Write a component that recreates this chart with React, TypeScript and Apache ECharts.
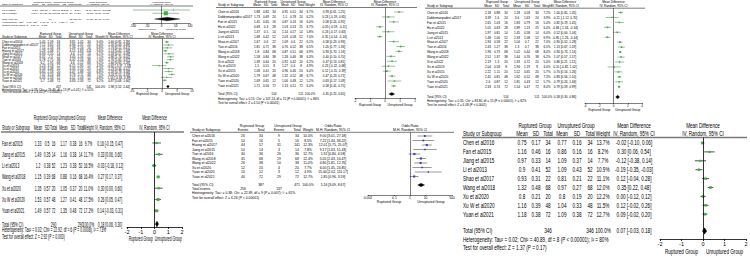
import React, { useEffect, useRef } from "react";
import * as echarts from "echarts";

// ================= DATA =================
// Panel A (top-left, small): Mean Difference
const aStudies = ["Lu et al2017", "Shi et al2021"];
const aRupMean = [142.7, 148.44];
const aRupSD = [135.02, 104.26];
const aRupN = [9, 25];
const aUnrMean = [100.61, 133.32];
const aUnrSD = [202.52, 56.67];
const aUnrN = [9, 26];
const aWeight = [5.5, 94.5];
const aMD = [42.09, 15.12];
const aLow = [-117.04, -31.56];
const aHigh = [201.22, 61.8];
const aTotalN = [34, 35];
const aTotalCI = [19.85, -24.61, 64.31];
const aHet = "Heterogeneity: Tau² = 0.00; Chi² = 0.10, df = 1 (P = 0.75); I² = 0%";
const aTest = "Test for overall effect: Z = 0.87 (P = 0.38)";
const aTicks = [-100, -50, 0, 50, 100];

// Panel B (top-left, 14 studies)
const bStudies = ["Chen et al2016", "Dobbsmanpadevi et al2017", "Fan et al2015", "Huang et al2017", "Jiang et al2015", "Shao et al2017", "Tian et al2016", "Wang et al2018", "Xu et al2013", "Xu et al2015", "Xu et al2020", "Xu W et al2020", "Yuan et al2020", "Yuan et al2021"];
const bRupMean = [5.45, 7.12, 7.15, 5.28, 6.93, 6.31, 6.78, 6.2, 5.23, 6.58, 6.65, 7.02, 6.05, 5.7];
const bRupSD = [2.09, 3.65, 2.58, 2.48, 2.55, 2.3, 2.75, 1.91, 3.18, 3.48, 2.58, 3.24, 2.58, 2.48];
const bRupN = [34, 24, 16, 57, 14, 22, 38, 68, 12, 20, 20, 48, 12, 72];
const bUnrMean = [3.85, 4.96, 5.39, 4.15, 4.6, 3.45, 4.02, 4.6, 6.15, 4.35, 4.47, 3.78, 4.52, 4.83];
const bUnrSD = [1.05, 2.31, 2.16, 1.83, 2.18, 1.56, 2.16, 2.12, 2.95, 2.55, 1.88, 2.11, 2.03, 2.33];
const bUnrN = [34, 24, 16, 141, 14, 22, 38, 68, 12, 20, 20, 48, 12, 72];
const bWeight = [9.4, 6.4, 6.8, 9.6, 6.1, 7.1, 7.4, 9.2, 4.3, 5.4, 6.8, 7.5, 4.8, 9.2];
const bMD = [1.6, 2.16, 1.76, 1.13, 2.33, 2.86, 2.76, 1.6, -0.92, 2.23, 2.18, 3.24, 1.53, 0.87];
const bLow = [0.81, 0.43, 0.11, 0.42, 0.57, 1.7, 1.65, 0.92, -3.37, 0.34, 0.78, 2.15, -0.33, 0.08];
const bHigh = [2.39, 3.89, 3.41, 1.84, 4.09, 4.02, 3.87, 2.28, 1.53, 4.12, 3.58, 4.33, 3.39, 1.66];
const bTotalN = [457, 541];
const bTotalCI = [1.98, 1.52, 2.44];
const bHet = "Heterogeneity: Tau² = 0.38; Chi² = 26.49, df = 13 (P = 0.01); I² = 51%";
const bTest = "Test for overall effect: Z = 8.43 (P < 0.00001)";
const bTicks = [-10, -5, 0, 5, 10];

// Panel C (top-middle, 16 studies)
const cStudies = ["Chen et al2016", "Dobbsmanpadevi al2017", "Fan et al2015", "Hu et al2022", "Jiang et al2015", "Li et al2013", "Shao et al2017", "Tian et al2016", "Wang et al2018", "Wang et al2022", "Xi et al2022", "Xu et al2013", "Xu et al2015", "Xu W et al2020", "Yuan et al2020", "Yuan et al2021"];
const cRupMean = [1.88, 1.73, 1.45, 0.68, 1.37, 1.68, 1.67, 1.81, 1.8, 1.58, 1.39, 1.5, 1.08, 1.79, 1.69, 1.71];
const cRupSD = [0.82, 0.69, 0.65, 0.3, 0.5, 0.42, 0.6, 0.71, 0.84, 0.84, 0.64, 0.51, 0.41, 0.67, 0.65, 0.56];
const cRupN = [34, 24, 16, 28, 14, 52, 22, 38, 68, 38, 20, 8, 20, 48, 12, 72];
const cUnrMean = [0.95, 1.5, 0.87, 1.03, 1.14, 2.03, 1.09, 0.76, 0.87, 1.18, 0.92, 1.27, 0.96, 1.32, 1.06, 1.13];
const cUnrSD = [0.51, 0.78, 0.24, 0.53, 0.57, 0.58, 0.6, 0.52, 0.51, 0.46, 0.42, 0.4, 0.46, 0.52, 0.48, 0.51];
const cUnrN = [34, 24, 16, 25, 14, 52, 22, 38, 68, 38, 20, 8, 20, 48, 12, 72];
const cWeight = [6.7, 6.2, 6.0, 6.7, 5.8, 7.0, 6.1, 6.5, 6.9, 6.3, 6.2, 4.9, 6.4, 6.7, 5.2, 6.4];
const cMD = [0.93, 0.23, 0.58, -0.35, 0.23, -0.35, 0.58, 1.05, 0.93, 0.4, 0.47, 0.23, 0.12, 0.47, 0.63, 0.58];
const cLow = [0.61, -0.19, 0.24, -0.59, -0.17, -0.54, 0.23, 0.77, 0.7, 0.1, 0.13, -0.22, -0.15, 0.23, 0.17, 0.41];
const cHigh = [1.25, 0.65, 0.92, -0.11, 0.63, -0.16, 0.93, 1.33, 1.16, 0.7, 0.81, 0.68, 0.39, 0.71, 1.09, 0.75];
const cTotalN = [514, 511];
const cTotalCI = [0.45, 0.25, 0.65];
const cHet = "Heterogeneity: Tau² = 0.15; Chi² = 107.24, df = 15 (P < 0.00001); I² = 86%";
const cTest = "Test for overall effect: Z = 4.54 (P < 0.00001)";
const cTicks = [-2, -1, 0, 1, 2];

// Panel D (top-right, 16 studies)
const dStudies = ["Chen et al2016", "Dobbsmanpadevi al2017", "Fan et al2015", "Hu et al2022", "Jiang et al2015", "Li et al2013", "Shao et al2017", "Tian et al2016", "Wang et al2018", "Wang et al2022", "Xi et al2022", "Xu et al2013", "Xu et al2015", "Xu W et al2020", "Yuan et al2020", "Yuan et al2021"];
const dRupMean = [2.18, 3.39, 2.65, 1.05, 1.97, 1.48, 1.94, 2.43, 1.96, 2.51, 2.19, 2.04, 2.22, 2.45, 2.6, 2.33];
const dRupSD = [0.88, 1.6, 1.03, 0.63, 0.81, 1.06, 0.58, 1.27, 0.73, 1.37, 1.3, 0.58, 1.11, 0.81, 0.87, 0.74];
const dRupN = [34, 24, 16, 28, 14, 52, 22, 38, 68, 38, 20, 8, 20, 48, 12, 72];
const dUnrMean = [1.18, 3.6, 1.83, 1.89, 1.45, 2.33, 1.04, 1.3, 1.02, 1.44, 1.33, 1.94, 1.52, 1.62, 1.81, 1.54];
const dUnrSD = [0.58, 1.63, 0.79, 1.13, 0.58, 1.08, 0.7, 0.7, 0.44, 0.76, 0.72, 1.19, 0.65, 0.52, 0.43, 0.47];
const dUnrN = [34, 24, 16, 25, 14, 52, 22, 38, 68, 38, 20, 8, 20, 48, 12, 72];
const dWeight = [7.2, 3.9, 5.4, 6.4, 6.0, 6.9, 7.0, 6.5, 8.4, 6.2, 5.0, 4.0, 5.7, 7.3, 5.7, 8.4];
const dMD = [1.0, -0.21, 0.82, -0.84, 0.52, -0.85, 0.9, 1.13, 0.94, 1.07, 0.86, 0.1, 0.7, 0.83, 0.79, 0.79];
const dLow = [0.65, -1.12, 0.19, -1.34, 0.0, -1.26, 0.52, 0.67, 0.74, 0.57, 0.21, -0.82, 0.14, 0.56, 0.24, 0.59];
const dHigh = [1.35, 0.7, 1.45, -0.34, 1.04, -0.44, 1.28, 1.59, 1.14, 1.57, 1.51, 1.02, 1.26, 1.1, 1.34, 0.99];
const dTotalN = [514, 511];
const dTotalCI = [0.58, 0.3, 0.86];
const dHet = "Heterogeneity: Tau² = 0.35; Chi² = 83.80, df = 15 (P < 0.00001); I² = 82%";
const dTest = "Test for overall effect: Z = 4.08 (P < 0.0001)";
const dTicks = [-4, -2, 0, 2, 4];

// Panel E (bottom-left, 7 studies)
const eStudies = ["Fan et al2015", "Jiang et al2015", "Li et al2013", "Wang et al2018", "Xu et al2020", "Xu W et al2020", "Yuan et al2021"];
const eRupMean = [1.33, 1.49, 1.2, 1.15, 1.35, 1.53, 1.49];
const eRupSD = [0.5, 0.35, 0.38, 0.39, 0.57, 0.57, 0.57];
const eRupN = [16, 14, 52, 68, 20, 48, 72];
const eUnrMean = [1.17, 1.16, 1.23, 0.88, 1.05, 1.27, 1.35];
const eUnrSD = [0.38, 0.38, 0.38, 0.16, 0.37, 0.41, 0.48];
const eUnrN = [16, 14, 52, 68, 20, 48, 72];
const eWeight = [9.7, 11.7, 16.5, 16.4, 11.0, 17.5, 17.2];
const eMD = [0.16, 0.33, -0.03, 0.27, 0.3, 0.26, 0.14];
const eLow = [-0.15, 0.06, -0.18, 0.17, 0.0, 0.05, -0.03];
const eHigh = [0.47, 0.6, 0.12, 0.37, 0.6, 0.47, 0.31];
const eTotalN = [290, 290];
const eTotalCI = [0.18, 0.06, 0.3];
const eHet = "Heterogeneity: Tau² = 0.02; Chi² = 22.92, df = 6 (P = 0.0008); I² = 73%";
const eTest = "Test for overall effect: Z = 2.92 (P = 0.003)";
const eTicks = [-2, -1, 0, 1, 2];

// Panel F (bottom-middle, Odds Ratio)
const fStudies = ["Chen et al2016", "Fan et al2015", "Huang et al2017", "Jiang et al2015", "Tian et al2016", "Wang et al2018", "Wang et al2022", "Xu et al2020", "Yuan et al2020", "Yuan et al2021"];
const fRupEvents = [26, 10, 44, 10, 30, 45, 26, 12, 10, 40];
const fRupN = [34, 16, 57, 14, 36, 68, 38, 20, 12, 72];
const fUnrEvents = [9, 5, 31, 3, 26, 19, 10, 4, 3, 29];
const fUnrN = [34, 16, 141, 14, 36, 68, 38, 20, 12, 72];
const fWeight = [10.0, 8.5, 12.3, 7.8, 12.7, 12.4, 11.0, 7.7, 4.9, 12.7];
const fOR = [9.0, 7.22, 12.01, 9.17, 1.92, 5.05, 4.8, 6.0, 15.0, 1.85];
const fLow = [3.01, 1.44, 5.75, 1.63, 0.8, 2.43, 1.81, 1.45, 2.02, 0.96];
const fHigh = [27.18, 36.22, 25.07, 51.43, 4.58, 10.47, 12.76, 24.85, 111.17, 3.59];
const fTotalN = [387, 471];
const fTotalEvents = [256, 137];
const fTotalCI = [5.16, 3.09, 8.67];
const fHet = "Heterogeneity: Tau² = 0.38; Chi² = 22.89, df = 9 (P = 0.007); I² = 61%";
const fTest = "Test for overall effect: Z = 6.26 (P < 0.00001)";
const fTicks = [0.002, 0.1, 1, 10, 500];

// Panel G (bottom-right, 9 studies)
const gStudies = ["Chen et al2016", "Fan et al2015", "Jiang et al2015", "Li et al2013", "Shao et al2017", "Wang et al2018", "Xu et al2020", "Xu W et al2020", "Yuan et al2021"];
const gRupMean = [0.75, 1.16, 0.97, 0.9, 0.93, 1.32, 0.8, 1.16, 1.18];
const gRupSD = [0.17, 0.46, 0.33, 0.41, 0.31, 0.48, 0.21, 0.39, 0.38];
const gRupN = [34, 16, 14, 52, 22, 68, 20, 48, 72];
const gUnrMean = [0.77, 0.86, 1.09, 1.09, 0.81, 0.97, 0.8, 1.04, 1.09];
const gUnrSD = [0.16, 0.16, 0.37, 0.43, 0.21, 0.27, 0.19, 0.33, 0.38];
const gUnrN = [34, 16, 14, 52, 22, 68, 20, 48, 72];
const gWeight = [13.7, 8.2, 7.7, 10.9, 11.1, 12.0, 12.2, 11.5, 12.7];
const gMD = [-0.02, 0.3, -0.12, -0.19, 0.12, 0.35, 0.0, 0.12, 0.09];
const gLow = [-0.1, 0.06, -0.38, -0.35, -0.04, 0.22, -0.12, -0.02, -0.02];
const gHigh = [0.06, 0.54, 0.14, -0.03, 0.28, 0.48, 0.12, 0.26, 0.2];
const gTotalN = [346, 346];
const gTotalCI = [0.07, -0.03, 0.18];
const gHet = "Heterogeneity: Tau² = 0.02; Chi² = 40.89, df = 8 (P < 0.00001); I² = 80%";
const gTest = "Test for overall effect: Z = 1.37 (P = 0.17)";
const gTicks = [-2, -1, 0, 1, 2];

const GROUPS = ["Ruptured Group", "Unruptured Group"];

// ================= BUILDERS =================
const ci = (m: number, l: number, h: number) => `${m.toFixed(2)} [${l.toFixed(2)}, ${h.toFixed(2)}]`;
const pct = (w: number) => `${w.toFixed(1)}%`;

type Panel = {
  names: string[];
  cells: string[][];
  groupSpans: number[][];
  heads: string[];
  effect: string;
  method: string;
  totalCells: string[];
  eventsCells?: string[];
  md: number[]; lo: number[]; hi: number[]; wt: number[];
  totCI: number[];
  het: string; test: string;
  ticks: number[]; log: boolean;
};

function mdPanel(names: string[], rm: number[], rsd: number[], rn: number[], um: number[], usd: number[], un: number[], wt: number[], md: number[], lo: number[], hi: number[], totN: number[], totCI: number[], het: string, test: string, ticks: number[]): Panel {
  return {
    names,
    cells: names.map((_, i) => [String(rm[i]), String(rsd[i]), String(rn[i]), String(um[i]), String(usd[i]), String(un[i]), pct(wt[i]), ci(md[i], lo[i], hi[i])]),
    groupSpans: [[0, 2], [3, 5]],
    heads: ["Mean", "SD", "Total", "Mean", "SD", "Total", "Weight"],
    effect: "Mean Difference",
    method: "IV, Random, 95% CI",
    totalCells: ["", "", String(totN[0]), "", "", String(totN[1]), "100.0%", ci(totCI[0], totCI[1], totCI[2])],
    md, lo, hi, wt, totCI, het, test, ticks, log: false,
  };
}

const panelA = mdPanel(aStudies, aRupMean, aRupSD, aRupN, aUnrMean, aUnrSD, aUnrN, aWeight, aMD, aLow, aHigh, aTotalN, aTotalCI, aHet, aTest, aTicks);
const panelB = mdPanel(bStudies, bRupMean, bRupSD, bRupN, bUnrMean, bUnrSD, bUnrN, bWeight, bMD, bLow, bHigh, bTotalN, bTotalCI, bHet, bTest, bTicks);
const panelC = mdPanel(cStudies, cRupMean, cRupSD, cRupN, cUnrMean, cUnrSD, cUnrN, cWeight, cMD, cLow, cHigh, cTotalN, cTotalCI, cHet, cTest, cTicks);
const panelD = mdPanel(dStudies, dRupMean, dRupSD, dRupN, dUnrMean, dUnrSD, dUnrN, dWeight, dMD, dLow, dHigh, dTotalN, dTotalCI, dHet, dTest, dTicks);
const panelE = mdPanel(eStudies, eRupMean, eRupSD, eRupN, eUnrMean, eUnrSD, eUnrN, eWeight, eMD, eLow, eHigh, eTotalN, eTotalCI, eHet, eTest, eTicks);
const panelG = mdPanel(gStudies, gRupMean, gRupSD, gRupN, gUnrMean, gUnrSD, gUnrN, gWeight, gMD, gLow, gHigh, gTotalN, gTotalCI, gHet, gTest, gTicks);
const panelF: Panel = {
  names: fStudies,
  cells: fStudies.map((_, i) => [String(fRupEvents[i]), String(fRupN[i]), String(fUnrEvents[i]), String(fUnrN[i]), pct(fWeight[i]), ci(fOR[i], fLow[i], fHigh[i])]),
  groupSpans: [[0, 1], [2, 3]],
  heads: ["Events", "Total", "Events", "Total", "Weight"],
  effect: "Odds Ratio",
  method: "M-H, Random, 95% CI",
  totalCells: ["", String(fTotalN[0]), "", String(fTotalN[1]), "100.0%", ci(fTotalCI[0], fTotalCI[1], fTotalCI[2])],
  eventsCells: [String(fTotalEvents[0]), "", String(fTotalEvents[1]), ""],
  md: fOR, lo: fLow, hi: fHigh, wt: fWeight, totCI: fTotalCI,
  het: fHet, test: fTest, ticks: fTicks, log: true,
};

// ================= LAYOUT (positions / styles) =================
type Layout = {
  font: number; sx: number; nameX: number; colX: number[];
  groupY: number; headY: number; ruleY: number; rowY0: number; rowStep: number;
  totalY: number; eventsY?: number; hetY: number; testY: number;
  plotX0: number; plotX1: number; axisY: number; ruleX0: number; ruleX1: number; ruleW: number;
  sq: number; dia: number; lw: number; lineColor: string; markColor: string;
  tickFont: number; tickLen: number; labelGap: number; subY: number;
};

const GREEN = "#37b537";
const TOPLINE = "#3f7f3f";

const LA: Layout = { font: 2.5, sx: 1, nameX: 2, colX: [35, 43.5, 50, 56, 64.5, 71, 77.5, 98], groupY: 2, headY: 4.2, ruleY: 6, rowY0: 10, rowStep: 3.3, totalY: 19, hetY: 22, testY: 25, plotX0: 133, plotX1: 190, axisY: 23.5, ruleX0: 0, ruleX1: 193, ruleW: 1, sq: 0.42, dia: 1.8, lw: 0.5, lineColor: TOPLINE, markColor: GREEN, tickFont: 3, tickLen: 1, labelGap: 1, subY: 29.5 };
const LB: Layout = { font: 3, sx: 1, nameX: 2, colX: [42.5, 50.5, 58.5, 72.5, 80.5, 89, 100, 119], groupY: 33.8, headY: 36.2, ruleY: 38.4, rowY0: 42, rowStep: 2.95, totalY: 86.5, hetY: 89.3, testY: 92, plotX0: 132, plotX1: 192, axisY: 88.5, ruleX0: 0, ruleX1: 194, ruleW: 1, sq: 0.55, dia: 1.4, lw: 0.5, lineColor: TOPLINE, markColor: GREEN, tickFont: 3, tickLen: 1, labelGap: 1, subY: 94 };
const LC: Layout = { font: 3.1, sx: 1, nameX: 218, colX: [257, 266, 274, 285, 293, 301, 310, 334], groupY: 1.8, headY: 5.2, ruleY: 7.5, rowY0: 12, rowStep: 4.93, totalY: 94, hetY: 98.5, testY: 103, plotX0: 355, plotX1: 415, axisY: 98, ruleX0: 216, ruleX1: 417, ruleW: 1, sq: 0.65, dia: 1.6, lw: 0.5, lineColor: TOPLINE, markColor: GREEN, tickFont: 3.1, tickLen: 1, labelGap: 1, subY: 105 };
const LD: Layout = { font: 3.1, sx: 1, nameX: 427, colX: [488, 497, 506, 517, 527, 537, 547, 565], groupY: 2, headY: 6, ruleY: 8.2, rowY0: 12.5, rowStep: 4.95, totalY: 97, hetY: 101, testY: 105, plotX0: 585, plotX1: 642, axisY: 103, ruleX0: 425, ruleX1: 645, ruleW: 1, sq: 0.65, dia: 1.7, lw: 0.5, lineColor: TOPLINE, markColor: GREEN, tickFont: 3.1, tickLen: 1, labelGap: 1, subY: 110 };
const LE: Layout = { font: 7, sx: 0.48, nameX: 2, colX: [38, 47, 53.5, 63.5, 73, 80.5, 88.5, 110], groupY: 117.5, headY: 127.5, ruleY: 132, rowY0: 143, rowStep: 11.3, totalY: 224, hetY: 229, testY: 236, plotX0: 127, plotX1: 182, axisY: 227, ruleX0: 1, ruleX1: 184, ruleW: 1.4, sq: 0.7, dia: 3, lw: 0.8, lineColor: "#333", markColor: GREEN, tickFont: 5.5, tickLen: 2, labelGap: 1.5, subY: 238 };
const LF: Layout = { font: 3.4, sx: 1, nameX: 192, colX: [243, 261, 279, 297, 308, 333], groupY: 126, headY: 130, ruleY: 132.3, rowY0: 136, rowStep: 4.5, totalY: 185, eventsY: 189.3, hetY: 193.4, testY: 197.5, plotX0: 368, plotX1: 452, axisY: 195, ruleX0: 190, ruleX1: 454, ruleW: 1, sq: 0.6, dia: 1.8, lw: 0.5, lineColor: "#333", markColor: "#3a3ad0", tickFont: 3.4, tickLen: 1, labelGap: 1, subY: 202 };
const LG: Layout = { font: 6.8, sx: 0.68, nameX: 463, colX: [522, 536, 548, 562, 577, 590, 603, 634], groupY: 126, headY: 133.5, ruleY: 137.5, rowY0: 143, rowStep: 8.9, totalY: 231, hetY: 240, testY: 248, plotX0: 660, plotX1: 746, axisY: 239, ruleX0: 462, ruleX1: 747, ruleW: 1.4, sq: 0.75, dia: 3.2, lw: 0.8, lineColor: "#222", markColor: GREEN, tickFont: 5.5, tickLen: 2, labelGap: 1.5, subY: 252 };

const PANELS: { p: Panel; L: Layout }[] = [
  { p: panelA, L: LA }, { p: panelB, L: LB }, { p: panelC, L: LC }, { p: panelD, L: LD },
  { p: panelE, L: LE }, { p: panelF, L: LF }, { p: panelG, L: LG },
];

const FONT = "'Liberation Sans', Arial, sans-serif";

function txt(L: Layout, x: number, y: number, text: string, align = "center"): any {
  return {
    type: "text", x, y, scaleX: L.sx, silent: true,
    style: { text, fill: "#000", fontSize: L.font, fontFamily: FONT, align, verticalAlign: "middle" },
  };
}

function makeRender(L: Layout) {
  return (params: any, api: any) => {
    const md = api.value(0), lo = api.value(1), hi = api.value(2), row = api.value(3), wt = api.value(4), kind = api.value(5);
    const cs = params.coordSys;
    const c = api.coord([md, row]);
    const a = api.coord([lo, row]);
    const b = api.coord([hi, row]);
    const xmin = cs.x, xmax = cs.x + cs.width;
    const x1 = Math.max(xmin, Math.min(xmax, a[0]));
    const x2 = Math.max(xmin, Math.min(xmax, b[0]));
    if (kind === 1) {
      return {
        type: "polygon",
        shape: { points: [[x1, c[1]], [c[0], c[1] - L.dia], [x2, c[1]], [c[0], c[1] + L.dia]] },
        style: { fill: "#000", stroke: "#000", lineWidth: 0.3 },
      };
    }
    const s = L.sq * Math.sqrt(wt);
    return {
      type: "group",
      children: [
        { type: "line", shape: { x1, y1: c[1], x2, y2: c[1] }, style: { stroke: L.lineColor, lineWidth: L.lw } },
        { type: "rect", shape: { x: c[0] - s / 2, y: c[1] - s / 2, width: s, height: s }, style: { fill: L.markColor } },
      ],
    };
  };
}

function buildOption() {
  const grids: any[] = [], xAxes: any[] = [], yAxes: any[] = [], series: any[] = [], elements: any[] = [];
  PANELS.forEach(({ p, L }, i) => {
    const rowIdx = (y: number) => (y - L.rowY0) / L.rowStep;
    const tmin = p.ticks[0], tmax = p.ticks[p.ticks.length - 1];
    grids.push({ left: L.plotX0, top: L.ruleY, width: L.plotX1 - L.plotX0, height: L.axisY - L.ruleY, outerBoundsMode: "none", containLabel: false });
    const labelBase: any = { fontSize: L.tickFont, color: "#000", margin: L.labelGap, fontFamily: FONT, showMinLabel: true, showMaxLabel: true };
    if (p.log) {
      xAxes.push({
        gridIndex: i, type: "log", logBase: 10, min: tmin, max: tmax,
        axisLine: { show: true, onZero: false, lineStyle: { color: "#000", width: L.lw } },
        axisTick: { show: true, length: L.tickLen, customValues: p.ticks, lineStyle: { color: "#000", width: L.lw } },
        axisLabel: { ...labelBase, customValues: p.ticks, formatter: (v: number) => String(+Number(v).toPrecision(3)) },
        splitLine: { show: false }, minorTick: { show: false },
      });
    } else {
      xAxes.push({
        gridIndex: i, type: "value", min: tmin, max: tmax, interval: p.ticks[1] - p.ticks[0],
        axisLine: { show: true, onZero: false, lineStyle: { color: "#000", width: L.lw } },
        axisTick: { show: true, length: L.tickLen, lineStyle: { color: "#000", width: L.lw } },
        axisLabel: labelBase,
        splitLine: { show: false },
      });
    }
    yAxes.push({ gridIndex: i, type: "value", inverse: true, min: rowIdx(L.ruleY), max: rowIdx(L.axisY), show: false, splitLine: { show: false } });

    const data: number[][] = p.md.map((m, k) => [m, p.lo[k], p.hi[k], k, p.wt[k], 0]);
    data.push([p.totCI[0], p.totCI[1], p.totCI[2], rowIdx(L.totalY), 0, 1]);
    series.push({
      type: "custom", coordinateSystem: "cartesian2d", xAxisIndex: i, yAxisIndex: i,
      encode: { x: 0, y: 3 }, data, renderItem: makeRender(L), silent: true,
      markLine: {
        silent: true, symbol: ["none", "none"], label: { show: false },
        lineStyle: { color: "#000", width: L.lw, type: "solid" },
        emphasis: { disabled: true },
        data: [{ xAxis: p.log ? 1 : 0 }],
      },
    });

    // ---- table texts ----
    const nCol = p.cells[0].length;
    const ciX = L.colX[nCol - 1];
    const plotMid = (L.plotX0 + L.plotX1) / 2;
    p.groupSpans.forEach((sp, g) => {
      elements.push(txt(L, (L.colX[sp[0]] + L.colX[sp[1]]) / 2, L.groupY, GROUPS[g]));
    });
    elements.push(txt(L, ciX, L.groupY, p.effect));
    elements.push(txt(L, plotMid, L.groupY, p.effect));
    elements.push(txt(L, L.nameX, L.headY, "Study or Subgroup", "left"));
    p.heads.forEach((h, k) => elements.push(txt(L, L.colX[k], L.headY, h)));
    elements.push(txt(L, ciX, L.headY, p.method));
    elements.push(txt(L, plotMid, L.headY, p.method));
    elements.push({ type: "line", silent: true, shape: { x1: L.ruleX0, y1: L.ruleY, x2: L.ruleX1, y2: L.ruleY }, style: { stroke: "#7a7a7a", lineWidth: L.ruleW } });

    p.names.forEach((nm, r) => {
      const y = L.rowY0 + r * L.rowStep;
      elements.push(txt(L, L.nameX, y, nm, "left"));
      p.cells[r].forEach((c, k) => elements.push(txt(L, L.colX[k], y, c)));
    });
    elements.push(txt(L, L.nameX, L.totalY, "Total (95% CI)", "left"));
    p.totalCells.forEach((c, k) => { if (c) elements.push(txt(L, L.colX[k], L.totalY, c)); });
    if (p.eventsCells && L.eventsY !== undefined) {
      elements.push(txt(L, L.nameX, L.eventsY, "Total events", "left"));
      p.eventsCells.forEach((c, k) => { if (c) elements.push(txt(L, L.colX[k], L.eventsY as number, c)); });
    }
    elements.push(txt(L, L.nameX, L.hetY, p.het, "left"));
    elements.push(txt(L, L.nameX, L.testY, p.test, "left"));

    // favours labels under the axis
    let zeroX: number;
    if (p.log) {
      const lmin = Math.log10(tmin), lmax = Math.log10(tmax);
      zeroX = L.plotX0 + ((0 - lmin) / (lmax - lmin)) * (L.plotX1 - L.plotX0);
    } else {
      zeroX = L.plotX0 + ((0 - tmin) / (tmax - tmin)) * (L.plotX1 - L.plotX0);
    }
    elements.push(txt(L, (L.plotX0 + zeroX) / 2, L.subY, GROUPS[0]));
    elements.push(txt(L, (zeroX + L.plotX1) / 2, L.subY, GROUPS[1]));
  });

  return {
    animation: false,
    backgroundColor: "#ffffff",
    grid: grids,
    xAxis: xAxes,
    yAxis: yAxes,
    series,
    graphic: { elements },
  };
}

export default function App() {
  const ref = useRef<HTMLDivElement>(null);
  useEffect(() => {
    if (!ref.current) return;
    const chart = echarts.init(ref.current, null, { renderer: "svg" });
    chart.setOption(buildOption() as any);
    return () => chart.dispose();
  }, []);
  return <div ref={ref} style={{ position: "absolute", left: 0, top: 0, width: 750, height: 260, background: "#fff" }} />;
}
